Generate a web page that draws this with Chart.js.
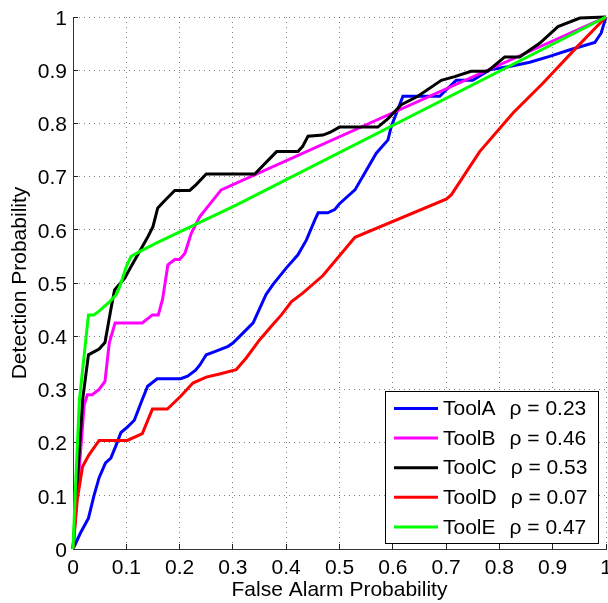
<!DOCTYPE html>
<html>
<head>
<meta charset="utf-8">
<script src="https://cdn.jsdelivr.net/npm/chart.js@4.4.1/dist/chart.umd.min.js"></script>
<style>
  html, body { margin: 0; padding: 0; background: #fff; }
  #wrap { width: 608px; height: 603px; }
</style>
</head>
<body>
<div id="wrap"><canvas id="rocChart" width="608" height="603"></canvas></div>
<script>
const toolNames = ['ToolA', 'ToolB', 'ToolC', 'ToolD', 'ToolE'];
const rhoValues = ['0.23', '0.46', '0.53', '0.07', '0.47'];

// false alarm (x) / detection (y) points
const toolA_x = [0, 0.014, 0.029, 0.039, 0.049, 0.061, 0.071, 0.080, 0.090, 0.102, 0.115, 0.130, 0.140, 0.158, 0.202, 0.215, 0.230, 0.238, 0.250, 0.266, 0.291, 0.300, 0.316, 0.338, 0.348, 0.362, 0.375, 0.400, 0.422, 0.438, 0.454, 0.460, 0.478, 0.491, 0.500, 0.529, 0.551, 0.569, 0.591, 0.597, 0.619, 0.688, 0.697, 0.719, 0.750, 0.782, 0.819, 0.857, 0.894, 0.934, 0.979, 0.991, 1];
const toolA_y = [0, 0.030, 0.058, 0.099, 0.134, 0.162, 0.171, 0.193, 0.219, 0.229, 0.242, 0.281, 0.306, 0.320, 0.320, 0.325, 0.336, 0.346, 0.365, 0.371, 0.381, 0.387, 0.403, 0.425, 0.447, 0.478, 0.497, 0.528, 0.553, 0.581, 0.619, 0.632, 0.632, 0.638, 0.649, 0.675, 0.713, 0.744, 0.769, 0.794, 0.851, 0.851, 0.860, 0.881, 0.881, 0.901, 0.907, 0.915, 0.926, 0.939, 0.952, 0.970, 1];

const toolB_x = [0, 0.021, 0.027, 0.036, 0.049, 0.060, 0.068, 0.079, 0.130, 0.149, 0.160, 0.168, 0.178, 0.191, 0.200, 0.210, 0.222, 0.238, 0.278, 1];
const toolB_y = [0, 0.271, 0.290, 0.290, 0.300, 0.315, 0.387, 0.425, 0.425, 0.440, 0.440, 0.469, 0.534, 0.544, 0.544, 0.556, 0.594, 0.625, 0.675, 1];

const toolC_x = [0, 0.018, 0.029, 0.049, 0.060, 0.071, 0.078, 0.097, 0.109, 0.125, 0.141, 0.150, 0.159, 0.175, 0.191, 0.219, 0.231, 0.250, 0.341, 0.382, 0.422, 0.431, 0.441, 0.469, 0.482, 0.500, 0.572, 0.591, 0.616, 0.647, 0.691, 0.716, 0.747, 0.778, 0.810, 0.838, 0.876, 0.910, 0.951, 1];
const toolC_y = [0, 0.280, 0.365, 0.376, 0.388, 0.450, 0.487, 0.509, 0.531, 0.559, 0.588, 0.606, 0.641, 0.658, 0.674, 0.674, 0.685, 0.705, 0.705, 0.747, 0.747, 0.757, 0.776, 0.778, 0.783, 0.793, 0.793, 0.809, 0.835, 0.851, 0.881, 0.888, 0.898, 0.898, 0.925, 0.925, 0.951, 0.982, 0.998, 1];

const toolD_x = [0, 0.008, 0.018, 0.030, 0.049, 0.102, 0.130, 0.149, 0.177, 0.202, 0.225, 0.250, 0.275, 0.306, 0.325, 0.350, 0.375, 0.391, 0.410, 0.431, 0.469, 0.529, 0.701, 0.710, 0.763, 0.826, 0.882, 0.944, 1];
const toolD_y = [0, 0.093, 0.155, 0.177, 0.204, 0.204, 0.217, 0.263, 0.263, 0.287, 0.312, 0.323, 0.329, 0.337, 0.359, 0.393, 0.422, 0.440, 0.465, 0.481, 0.514, 0.586, 0.658, 0.666, 0.747, 0.820, 0.876, 0.942, 1];

const toolE_x = [0, 0.004, 0.012, 0.029, 0.039, 0.049, 0.069, 0.081, 0.088, 0.100, 0.109, 0.125, 0.156, 0.307, 1];
const toolE_y = [0, 0.100, 0.280, 0.440, 0.440, 0.447, 0.465, 0.478, 0.494, 0.531, 0.550, 0.559, 0.575, 0.647, 1];

const tickValues = [0, 0.1, 0.2, 0.3, 0.4, 0.5, 0.6, 0.7, 0.8, 0.9, 1];
const tickLabels = ['0', '0.1', '0.2', '0.3', '0.4', '0.5', '0.6', '0.7', '0.8', '0.9', '1'];

const seriesX = [toolA_x, toolB_x, toolC_x, toolD_x, toolE_x];
const seriesY = [toolA_y, toolB_y, toolC_y, toolD_y, toolE_y];
const colors = ['#0000ff', '#ff00ff', '#000000', '#ff0000', '#00ff00'];

const FONT = "'Liberation Sans', Arial, Helvetica, sans-serif";

const datasets = toolNames.map((name, i) => ({
  label: name,
  rho: rhoValues[i],
  data: seriesX[i].map((x, j) => ({ x: x, y: seriesY[i][j] })),
  borderColor: colors[i],
  backgroundColor: colors[i],
  borderWidth: 3,
  pointRadius: 0,
  tension: 0,
  fill: false,
  clip: 6,
  order: toolNames.length - i
}));

function fixTicks(scale) {
  scale.ticks = tickValues.map(v => ({ value: v }));
}

function noPad(scale) {
  scale.paddingLeft = 0;
  scale.paddingRight = 0;
  scale.paddingTop = 0;
  scale.paddingBottom = 0;
}

// legend box in the lower right of the plot
const boxLegend = {
  id: 'boxLegend',
  afterDraw(chart) {
    const ctx = chart.ctx;
    const area = chart.chartArea;
    const w = 213, h = 152;
    const left = area.right - 8 - w;
    const top = area.bottom - 6 - h;
    ctx.save();
    ctx.fillStyle = '#fff';
    ctx.fillRect(left, top, w, h);
    ctx.strokeStyle = '#000';
    ctx.lineWidth = 1;
    ctx.strokeRect(Math.round(left) + 0.5, Math.round(top) + 0.5, w, h);
    ctx.font = '21px ' + FONT;
    ctx.textBaseline = 'middle';
    ctx.fillStyle = '#000';
    chart.data.datasets.forEach((ds, i) => {
      const y = top + 17.5 + i * 29.6;
      ctx.strokeStyle = ds.borderColor;
      ctx.lineWidth = 3;
      ctx.beginPath();
      ctx.moveTo(left + 9, y);
      ctx.lineTo(left + 53, y);
      ctx.stroke();
      ctx.fillText(ds.label, left + 58, y + 1);
      const nameW = ctx.measureText(ds.label).width;
      ctx.fillText('\u03c1 = ' + ds.rho, left + 58 + nameW + 14, y + 1);
    });
    ctx.restore();
  }
};

const gridOpts = {
  color: 'rgba(0,0,0,0.5)',
  lineWidth: 1,
  tickLength: -5,
  tickColor: '#222',
  tickWidth: 1
};

const ctx = document.getElementById('rocChart').getContext('2d');
const chart = new Chart(ctx, {
  type: 'line',
  data: { datasets: datasets },
  options: {
    responsive: false,
    animation: false,
    layout: { padding: { top: 17, right: 2, left: 0, bottom: 0 } },
    plugins: {
      legend: { display: false },
      tooltip: { enabled: false }
    },
    scales: {
      x: {
        type: 'linear',
        min: 0,
        max: 1,
        afterBuildTicks: fixTicks,
        afterFit(scale) { scale.height = 54; noPad(scale); },
        grid: gridOpts,
        border: { display: true, color: '#333', width: 1, dash: [1, 4] },
        ticks: {
          color: '#000',
          font: { family: FONT, size: 21 },
          padding: 12,
          maxRotation: 0,
          autoSkip: false,
          callback: (v, i) => tickLabels[i]
        },
        title: {
          display: true,
          text: 'False Alarm Probability',
          color: '#000',
          font: { family: FONT, size: 21 },
          padding: { top: 0, bottom: 0 }
        }
      },
      y: {
        type: 'linear',
        min: 0,
        max: 1,
        afterBuildTicks: fixTicks,
        afterFit(scale) { scale.width = 73; noPad(scale); },
        grid: gridOpts,
        border: { display: true, color: '#333', width: 1, dash: [1, 4] },
        ticks: {
          color: '#000',
          font: { family: FONT, size: 21 },
          padding: 11,
          labelOffset: 2,
          autoSkip: false,
          callback: (v, i) => tickLabels[i]
        },
        title: {
          display: true,
          text: 'Detection Probability',
          color: '#000',
          font: { family: FONT, size: 21 },
          padding: { top: 8, bottom: 0 }
        }
      }
    }
  },
  plugins: [boxLegend]
});
</script>
</body>
</html>
